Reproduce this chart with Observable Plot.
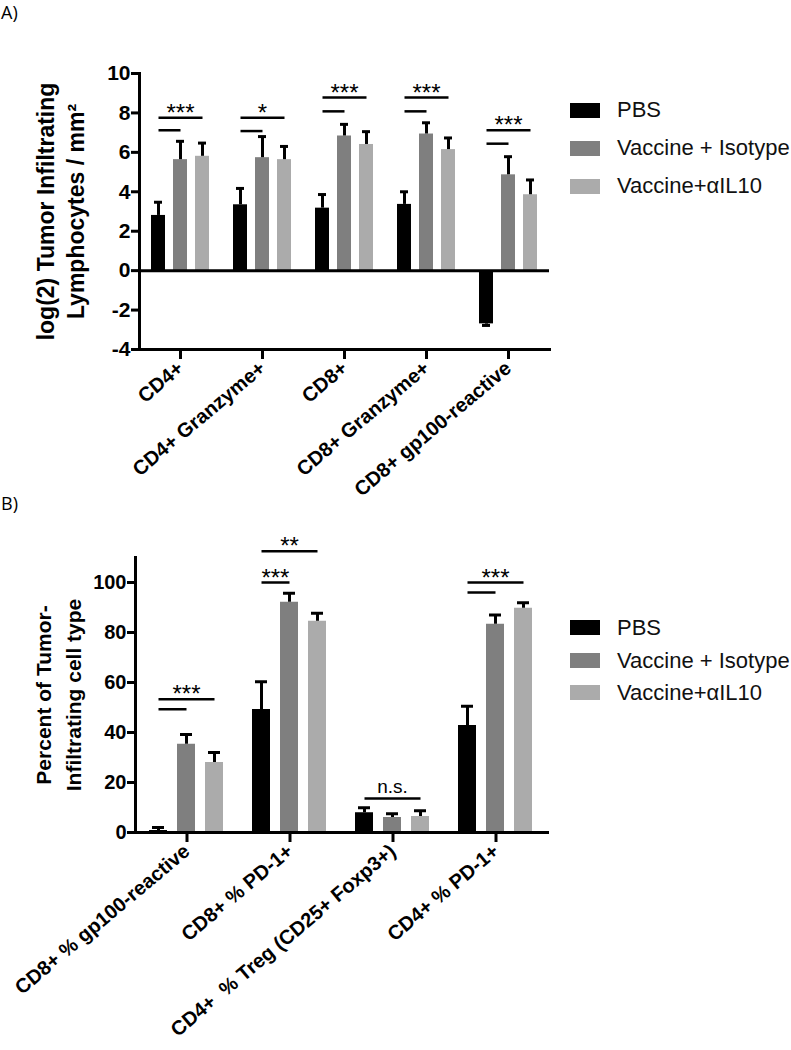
<!DOCTYPE html>
<html><head><meta charset="utf-8">
<script src="https://cdn.jsdelivr.net/npm/d3@7"></script>
<script src="https://cdn.jsdelivr.net/npm/@observablehq/plot@0.6"></script>
<style>
html,body{margin:0;padding:0;background:#fff;}
#root{position:relative;width:791px;height:1050px;overflow:hidden;font-family:"Liberation Sans",Arial,sans-serif;}
.panel{position:absolute;left:0;}
.panel svg, .panel svg g, .panel svg text, .panel svg tspan{font-family:"Liberation Sans",Arial,sans-serif !important;}
.tag{position:absolute;left:1px;font-family:"Open Sans",sans-serif;font-size:18px;line-height:1;}
.item{position:absolute;left:570px;white-space:nowrap;height:22px;}
.sw{position:absolute;left:0;width:30px;height:15px;}
.lab{position:absolute;left:47px;font-size:22px;line-height:22px;color:#111;}
</style></head><body><div id="root"></div><script>
// ---------- shared ----------
const series = ["PBS", "Vaccine + Isotype", "Vaccine+αIL10"];
const seriesColors = ["#000000", "#7f7f7f", "#ababab"];

// ---------- Panel A ----------
const categoriesA = ["CD4+", "CD4+ Granzyme+", "CD8+", "CD8+ Granzyme+", "CD8+ gp100-reactive"];
const meanA_PBS  = [2.80, 3.34, 3.17, 3.36, -2.70];
const meanA_Iso  = [5.63, 5.73, 6.83, 6.93, 4.86];
const meanA_IL10 = [5.80, 5.63, 6.40, 6.14, 3.85];
const semA_PBS   = [0.67, 0.83, 0.69, 0.64, 0.08];
const semA_Iso   = [0.93, 1.07, 0.59, 0.57, 0.92];
const semA_IL10  = [0.67, 0.67, 0.65, 0.59, 0.75];
const yTicksA = [-4, -2, 0, 2, 4, 6, 8, 10];
const yLabelA = "log(2) Tumor Infiltrating\nLymphocytes / mm²";
// significance bars: short = PBS→Isotype, long = PBS→αIL10
const sigA_cat   = categoriesA;
const sigA_short = [7.12, 7.08, 8.08, 8.08, 6.44];
const sigA_long  = [7.76, 7.76, 8.78, 8.78, 7.12];
const sigA_label = ["***", "*", "***", "***", "***"];

// ---------- Panel B ----------
const categoriesB = ["CD8+ % gp100-reactive", "CD8+ % PD-1+", "CD4+  % Treg (CD25+ Foxp3+)", "CD4+ % PD-1+"];
const meanB_PBS  = [0.8, 49.2, 7.9, 42.8];
const meanB_Iso  = [35.3, 92.1, 6.0, 83.3];
const meanB_IL10 = [28.0, 84.5, 6.4, 89.7];
const semB_PBS   = [1.2, 11.1, 2.0, 7.7];
const semB_Iso   = [3.9, 3.6, 1.5, 3.7];
const semB_IL10  = [4.0, 3.2, 2.3, 2.2];
const yTicksB = [0, 20, 40, 60, 80, 100];
const yLabelB = "Percent of Tumor-\nInfiltrating cell type";
const sigB_cat = [categoriesB[0], categoriesB[0], categoriesB[1], categoriesB[1], categoriesB[2], categoriesB[3], categoriesB[3]];
const sigB_to  = [series[1], series[2], series[1], series[2], series[2], series[1], series[2]];
const sigB_y   = [49.3, 53.3, 100, 112.5, 13.6, 96, 100];
const sigTextB_cat   = [categoriesB[0], categoriesB[1], categoriesB[1], categoriesB[2], categoriesB[3]];
const sigTextB_y     = [53.3, 100, 112.5, 13.6, 100];
const sigTextB_label = ["***", "***", "**", "n.s.", "***"];
const sigTextB_shift = [0, -0.5, 0, 0, 0];

// ---------- builder ----------
const padIn = 0.35, padOut = 0.51;
const W = 791;
const FONT = "Liberation Sans, Arial, sans-serif";

function buildPanel(o) {
  const rows = [];
  o.cats.forEach((c, i) => series.forEach((s, j) => {
    const m = o.means[j][i], e = o.sems[j][i];
    rows.push({cat: c, series: s, mean: m, end: m < 0 ? m - e : m + e});
  }));
  const fw = (W - o.mL - o.mR) / o.cats.length;
  const step = fw / (series.length - padIn + 2 * padOut);
  const marks = [
    Plot.barY(rows, {fx: "cat", x: "series", y: "mean", fill: "series"}),
    Plot.ruleX(rows, {fx: "cat", x: "series", y1: "mean", y2: "end", stroke: "#000", strokeWidth: 3}),
    Plot.tickY(rows, {fx: "cat", x: "series", y: "end", stroke: "#000", strokeWidth: 3, insetLeft: 3, insetRight: 3}),
    Plot.frame({anchor: "left", facetAnchor: "left", stroke: "#000", strokeWidth: 3}),
    Plot.frame({anchor: "bottom", stroke: "#000", strokeWidth: 3}),
    Plot.axisY({ticks: o.yTicks, tickFormat: d => String(d), tickSize: 8, tickPadding: 1, strokeWidth: 3,
                fontSize: o.tickSize, fontWeight: "bold", fontFamily: FONT, label: null}),
    Plot.axisFx({anchor: "bottom", tickSize: 10, tickPadding: 6, tickRotate: -40, strokeWidth: 3,
                 fontSize: 20, fontWeight: "bold", fontFamily: FONT, label: null}),
    Plot.link(o.sig, {fx: "cat", x1: () => series[0], x2: "to", y1: "y", y2: "y", stroke: "#000", strokeWidth: 2.5}),
    Plot.text([{cat: o.cats[0]}], {fx: "cat", frameAnchor: "left", dx: o.labelDx, rotate: -90, fontFamily: FONT,
               text: () => o.yLabel, fontSize: o.labelSize, fontWeight: "bold", lineHeight: o.labelLH, textAnchor: "middle"})
  ];
  if (o.zero) marks.push(Plot.ruleY([0], {stroke: "#000", strokeWidth: 3}));
  o.texts.forEach(t => {
    const ns = t.label === "n.s.";
    marks.push(Plot.text([t], {fx: "cat", x: () => series[1], y: "y", text: "label", lineAnchor: "bottom", fontFamily: FONT,
      dx: t.shift * step, dy: ns ? -6 : 3, fontSize: ns ? 19 : 24, fontWeight: "normal"}));
  });
  return Plot.plot({
    width: W, height: o.height,
    marginLeft: o.mL, marginRight: o.mR, marginTop: o.mT, marginBottom: o.mB,
    style: {fontFamily: FONT, background: "transparent", overflow: "visible", color: "#000", whiteSpace: "pre"},
    fx: {domain: o.cats, padding: 0, label: null},
    x: {domain: series, paddingInner: padIn, paddingOuter: padOut, axis: null},
    y: {domain: o.yDomain, label: null},
    color: {domain: series, range: seriesColors},
    marks
  });
}

const root = document.getElementById("root");

const sigA = [];
sigA_cat.forEach((c, i) => { sigA.push({cat: c, to: series[1], y: sigA_short[i]}); sigA.push({cat: c, to: series[2], y: sigA_long[i]}); });
const textsA = sigA_cat.map((c, i) => ({cat: c, y: sigA_long[i], label: sigA_label[i], shift: 0}));

const chartA = buildPanel({
  cats: categoriesA, means: [meanA_PBS, meanA_Iso, meanA_IL10], sems: [semA_PBS, semA_Iso, semA_IL10],
  yDomain: [-4, 10], yTicks: yTicksA, sig: sigA, texts: textsA, zero: true, tickSize: 21,
  yLabel: yLabelA, labelDx: -80, labelSize: 23, labelLH: 1.3,
  height: 500, mL: 137, mR: 241, mT: 73, mB: 151
});
const wrapA = document.createElement("div"); wrapA.className = "panel"; wrapA.style.top = "0px";
wrapA.appendChild(chartA); root.appendChild(wrapA);

const sigB = sigB_cat.map((c, i) => ({cat: c, to: sigB_to[i], y: sigB_y[i]}));
const textsB = sigTextB_cat.map((c, i) => ({cat: c, y: sigTextB_y[i], label: sigTextB_label[i], shift: sigTextB_shift[i]}));
const chartB = buildPanel({
  cats: categoriesB, means: [meanB_PBS, meanB_Iso, meanB_IL10], sems: [semB_PBS, semB_Iso, semB_IL10],
  yDomain: [0, 110], yTicks: yTicksB, sig: sigB, texts: textsB, zero: false, tickSize: 20,
  yLabel: yLabelB, labelDx: -79, labelSize: 21, labelLH: 1.4,
  height: 550, mL: 134, mR: 244, mT: 57, mB: 218
});
const wrapB = document.createElement("div"); wrapB.className = "panel"; wrapB.style.top = "500px";
wrapB.appendChild(chartB); root.appendChild(wrapB);

// panel tags
[["A)", 3], ["B)", 494]].forEach(([t, y]) => {
  const d = document.createElement("div"); d.className = "tag"; d.textContent = t; d.style.top = y + "px"; root.appendChild(d);
});

// legends
function legend(centers) {
  series.forEach((s, i) => {
    const it = document.createElement("div"); it.className = "item"; it.style.top = (centers[i] - 11) + "px";
    const sw = document.createElement("div"); sw.className = "sw"; sw.style.top = "3.5px"; sw.style.background = seriesColors[i];
    const lb = document.createElement("div"); lb.className = "lab"; lb.style.top = "0px"; lb.textContent = s;
    it.appendChild(sw); it.appendChild(lb); root.appendChild(it);
  });
}
legend([110, 148, 186]);
legend([627.5, 660.5, 692.5]);
</script></body></html>
